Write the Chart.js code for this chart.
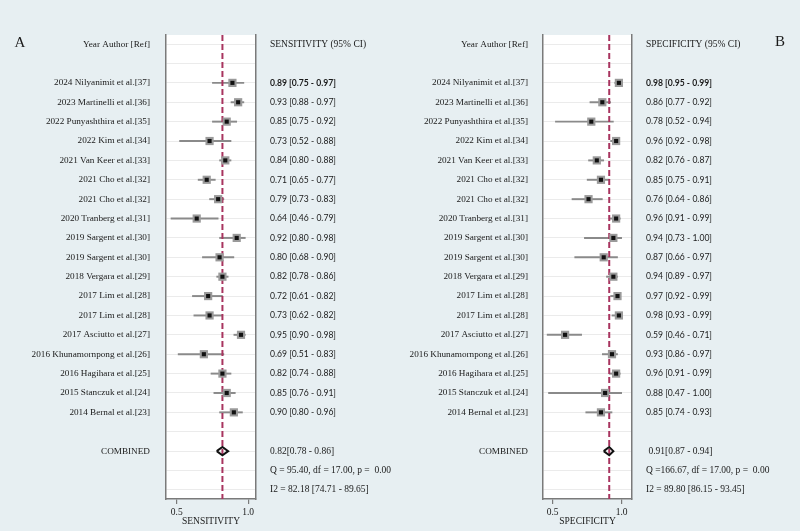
<!DOCTYPE html>
<html>
<head>
<meta charset="utf-8">
<script src="https://cdn.jsdelivr.net/npm/chart.js@4.4.1/dist/chart.umd.min.js"></script>
<style>
  html, body { margin: 0; padding: 0; background: #e7eff2; }
  #wrap { position: relative; width: 800px; height: 531px; }
  canvas { position: absolute; top: 0; }
</style>
</head>
<body>
<div id="wrap">
  <canvas id="panelA" width="400" height="531" style="left:0"></canvas>
  <canvas id="panelB" width="400" height="531" style="left:400px"></canvas>
</div>
<script>
// studies (same order in both panels)
const studies = [
  "2024 Nilyanimit et al.[37]", "2023 Martinelli et al.[36]", "2022 Punyashthira et al.[35]",
  "2022 Kim et al.[34]", "2021 Van Keer et al.[33]", "2021 Cho et al.[32]", "2021 Cho et al.[32]",
  "2020 Tranberg et al.[31]", "2019 Sargent et al.[30]", "2019 Sargent et al.[30]",
  "2018 Vergara et al.[29]", "2017 Lim et al.[28]", "2017 Lim et al.[28]",
  "2017 Asciutto et al.[27]", "2016 Khunamornpong et al.[26]", "2016 Hagihara et al.[25]",
  "2015 Stanczuk et al.[24]", "2014 Bernal et al.[23]"
];

// sensitivity
const sensEst = [0.89, 0.93, 0.85, 0.73, 0.84, 0.71, 0.79, 0.64, 0.92, 0.80, 0.82, 0.72, 0.73, 0.95, 0.69, 0.82, 0.85, 0.90];
const sensLo  = [0.75, 0.88, 0.75, 0.52, 0.80, 0.65, 0.73, 0.46, 0.80, 0.68, 0.78, 0.61, 0.62, 0.90, 0.51, 0.74, 0.76, 0.80];
const sensHi  = [0.97, 0.97, 0.92, 0.88, 0.88, 0.77, 0.83, 0.79, 0.98, 0.90, 0.86, 0.82, 0.82, 0.98, 0.83, 0.88, 0.91, 0.96];
const sensPooled = [0.82, 0.78, 0.86];
const sensQ  = "Q = 95.40, df = 17.00, p =  0.00";
const sensI2 = "I2 = 82.18 [74.71 - 89.65]";

// specificity
const specEst = [0.98, 0.86, 0.78, 0.96, 0.82, 0.85, 0.76, 0.96, 0.94, 0.87, 0.94, 0.97, 0.98, 0.59, 0.93, 0.96, 0.88, 0.85];
const specLo  = [0.95, 0.77, 0.52, 0.92, 0.76, 0.75, 0.64, 0.91, 0.73, 0.66, 0.89, 0.92, 0.93, 0.46, 0.86, 0.91, 0.47, 0.74];
const specHi  = [0.99, 0.92, 0.94, 0.98, 0.87, 0.91, 0.86, 0.99, 1.00, 0.97, 0.97, 0.99, 0.99, 0.71, 0.97, 0.99, 1.00, 0.93];
const specPooled = [0.91, 0.87, 0.94];
const specQ  = "Q =166.67, df = 17.00, p =  0.00";
const specI2 = "I2 = 89.80 [86.15 - 93.45]";

const xTicks = [0.5, 1.0];

const SERIF = "'Liberation Serif', 'Times New Roman', serif";
const SANS = "Lato, 'Open Sans', sans-serif";
const INK = '#1a1a1a';
const AXIS = '#7a7a7a';

// rows: 0 header, 1 blank, 2..19 studies, 20 blank, 21 combined, 22 Q, 23 I2
const FIRST = 2, COMB = 21, NROWS = 24;

const plotBg = {
  id: 'plotBg',
  beforeDraw(chart) {
    const a = chart.chartArea, c = chart.ctx;
    c.save();
    c.fillStyle = '#ffffff';
    c.fillRect(a.left, a.top, a.right - a.left, a.bottom - a.top);
    c.restore();
  }
};

const panelLetter = {
  id: 'panelLetter',
  afterDraw(chart, args, o) {
    const c = chart.ctx;
    c.save();
    c.font = '15px ' + SERIF;
    c.fillStyle = INK;
    c.textAlign = 'center';
    c.textBaseline = 'middle';
    c.fillText(o.text, o.x, o.y);
    c.restore();
  }
};

function fmt(v) { return v.toFixed(2); }

function buildPanel(id, p) {
  const left = [], right = [];
  left[0] = 'Year Author [Ref]';
  right[0] = p.header;
  studies.forEach((s, i) => {
    left[FIRST + i] = s;
    right[FIRST + i] = fmt(p.est[i]) + ' [' + fmt(p.lo[i]) + ' - ' + fmt(p.hi[i]) + ']';
  });
  left[COMB] = 'COMBINED';
  right[COMB] = p.lead + fmt(p.pooled[0]) + '[' + fmt(p.pooled[1]) + ' - ' + fmt(p.pooled[2]) + ']';
  right[COMB + 1] = p.q;
  right[COMB + 2] = p.i2;

  const rows = [];
  for (let r = 0; r < NROWS; r++) rows.push(r);

  const pts = p.est.map((v, i) => ({ x: v, y: FIRST + i }));
  const ci = p.lo.map((v, i) => ({ x: [v, p.hi[i]], y: FIRST + i }));
  const yMin = -0.47, yMax = NROWS - 1 + 0.47;
  const diamond = [
    { x: p.pooled[1], y: COMB }, { x: p.pooled[0], y: COMB - 0.21 },
    { x: p.pooled[2], y: COMB }, { x: p.pooled[0], y: COMB + 0.21 },
    { x: p.pooled[1], y: COMB }
  ];

  const yBase = {
    type: 'linear', reverse: true, min: yMin, max: yMax, offset: false,
    afterBuildTicks: s => { s.ticks = rows.map(v => ({ value: v })); }
  };

  new Chart(document.getElementById(id), {
    type: 'scatter',
    data: {
      datasets: [
        { type: 'scatter', showLine: true, data: diamond, borderColor: '#111', borderWidth: 2,
          backgroundColor: '#fff', fill: false, pointRadius: 0, tension: 0, order: 0 },
        { type: 'scatter', data: pts, pointStyle: 'rect', pointRadius: 2.9,
          backgroundColor: '#111', borderWidth: 0, order: 1 },
        { type: 'scatter', data: pts, pointStyle: 'rect', pointRadius: 5.8,
          backgroundColor: '#9a9a9a', borderWidth: 0, order: 2 },
        { type: 'scatter', showLine: true, data: [{ x: p.pooled[0], y: yMin }, { x: p.pooled[0], y: yMax }],
          borderColor: '#a8345f', borderWidth: 2, borderDash: [6, 3], pointRadius: 0, order: 3 },
        { type: 'bar', indexAxis: 'y', data: ci, backgroundColor: '#8a8a8a',
          barThickness: 1.3, order: 4 }
      ]
    },
    options: {
      responsive: false,
      animation: false,
      layout: { padding: { top: 35, left: 0, right: 0, bottom: 0 } },
      plugins: {
        legend: { display: false },
        tooltip: { enabled: false },
        panelLetter: p.letter
      },
      scales: {
        x: {
          type: 'linear', min: p.xMin, max: p.xMax, beginAtZero: false,
          afterBuildTicks: s => { s.ticks = xTicks.map(v => ({ value: v })); },
          afterFit: s => { s.height = 32; },
          grid: { drawOnChartArea: false, drawTicks: true, tickLength: 5, color: AXIS, lineWidth: 1.2 },
          border: { display: true, color: AXIS, width: 1.5 },
          ticks: { padding: 3, color: INK, font: { family: SERIF, size: 9.5 },
                   callback: v => v.toFixed(1) },
          title: { display: true, text: p.axisTitle, color: INK,
                   font: { family: SERIF, size: 9.5 }, padding: { top: 0, bottom: 4 } }
        },
        y: Object.assign({}, yBase, {
          position: 'left',
          afterFit: s => { s.width = p.leftW; },
          grid: { drawTicks: false, offset: false, color: '#ebebeb', lineWidth: 1 },
          border: { display: true, color: AXIS, width: 1.5 },
          ticks: { padding: p.leftPad, color: INK, font: { family: SERIF, size: 9.2 },
                   callback: v => left[v] || '' }
        }),
        yr: Object.assign({}, yBase, {
          position: 'right',
          afterFit: s => { s.width = 400 - p.rightEdge; },
          grid: { drawOnChartArea: false, drawTicks: false },
          border: { display: true, color: AXIS, width: 1.5 },
          ticks: {
            padding: 14, color: INK,
            font: ctx => {
              const r = ctx.tick ? ctx.tick.value : -1;
              if (r >= FIRST && r < FIRST + studies.length) {
                return { family: SANS, size: 8.6, weight: r === FIRST ? 'bold' : 'normal' };
              }
              return { family: SERIF, size: 9.5 };
            },
            callback: v => right[v] || ''
          }
        })
      }
    },
    plugins: [plotBg, panelLetter]
  });
}

buildPanel('panelA', {
  est: sensEst, lo: sensLo, hi: sensHi, pooled: sensPooled, q: sensQ, i2: sensI2,
  header: 'SENSITIVITY (95% CI)', axisTitle: 'SENSITIVITY', lead: '',
  xMin: 0.425, xMax: 1.055, leftW: 166, leftPad: 16, rightEdge: 256,
  letter: { text: 'A', x: 20, y: 43 }
});

buildPanel('panelB', {
  est: specEst, lo: specLo, hi: specHi, pooled: specPooled, q: specQ, i2: specI2,
  header: 'SPECIFICITY (95% CI)', axisTitle: 'SPECIFICITY', lead: ' ',
  xMin: 0.43, xMax: 1.075, leftW: 143, leftPad: 15, rightEdge: 232,
  letter: { text: 'B', x: 380, y: 42 }
});
</script>
</body>
</html>
